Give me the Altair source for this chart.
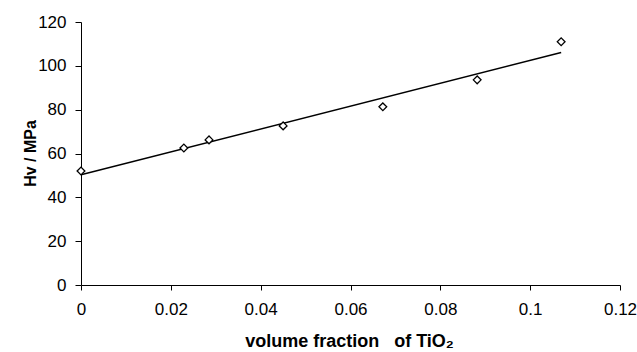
import altair as alt
import pandas as pd

volume_fraction = [0.0, 0.0229, 0.0285, 0.0450, 0.0672, 0.0882, 0.1069]
hardness = [52.0, 62.5, 66.2, 72.6, 81.3, 93.6, 111.0]
x_ticks = [0, 0.02, 0.04, 0.06, 0.08, 0.1, 0.12]
y_ticks = [0, 20, 40, 60, 80, 100, 120]

df = pd.DataFrame({"vf": volume_fraction, "hv": hardness})

FONT = "Liberation Sans"

x_enc = alt.X(
    "vf:Q",
    scale=alt.Scale(domain=[0, 0.12], nice=False, zero=True),
    axis=alt.Axis(
        values=x_ticks,
        format=".3~g",
        grid=False,
        domainColor="black",
        tickColor="black",
        tickSize=5,
        labelFont=FONT,
        labelFontSize=17,
        labelColor="black",
        labelBaseline="middle",
        labelPadding=19,
        labelFlush=False,
        labelOverlap=False,
        title="volume fraction\u00a0\u00a0\u00a0of TiO\u2082",
        titleFont=FONT,
        titleFontSize=18,
        titleFontWeight="bold",
        titleColor="black",
        titleX=268,
        titleY=61,
        titleBaseline="alphabetic",
        titleAlign="center",
    ),
)
y_enc = alt.Y(
    "hv:Q",
    scale=alt.Scale(domain=[0, 120], nice=False),
    axis=alt.Axis(
        values=y_ticks,
        grid=False,
        domainColor="black",
        tickColor="black",
        tickSize=6,
        labelFont=FONT,
        labelFontSize=17,
        labelColor="black",
        labelPadding=9,
        labelFlush=False,
        labelOverlap=False,
        title="Hv / MPa",
        titleFont=FONT,
        titleFontSize=16,
        titleFontWeight="bold",
        titleColor="black",
        titleAngle=-90,
        titleX=-51,
        titleY=131,
        titleBaseline="middle",
        titleAlign="center",
    ),
)

base = alt.Chart(df)

trend = base.transform_regression("vf", "hv").mark_line(
    color="black", strokeWidth=1.5
).encode(x=x_enc, y=y_enc)

points = base.mark_point(
    shape="diamond", size=60, filled=False, fill="white", fillOpacity=1,
    stroke="black", strokeWidth=1.3, opacity=1
).encode(x=x_enc, y=y_enc)

chart = (
    alt.layer(trend, points)
    .properties(
        width=539,
        height=263,
        autosize=alt.AutoSizeParams(type="none"),
        padding={"left": 81, "top": 22, "right": 17, "bottom": 67},
        background="white",
    )
    .configure_view(stroke=None)
)

chart.save("out.html", embed_options={"renderer": "svg", "actions": False})
